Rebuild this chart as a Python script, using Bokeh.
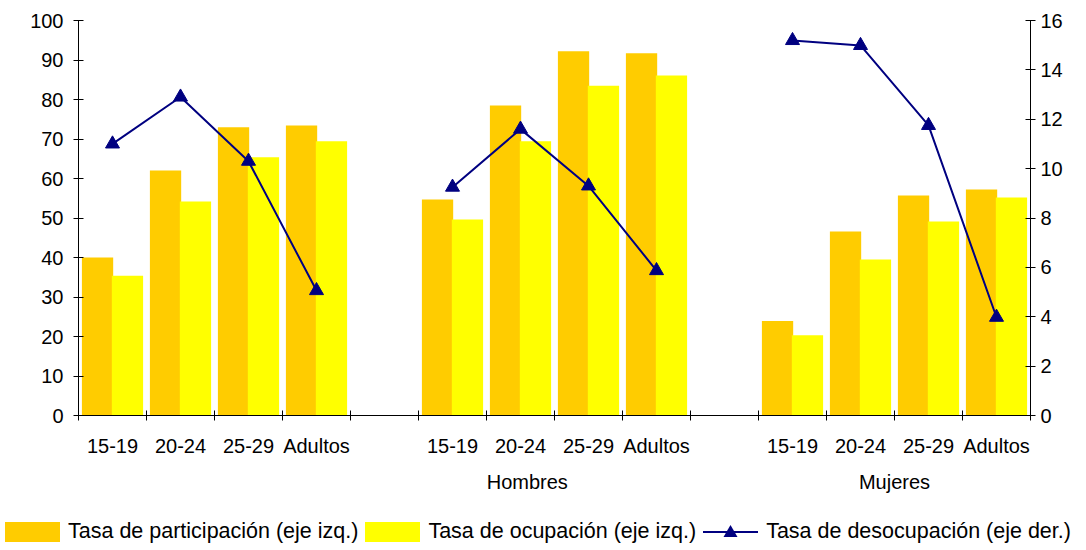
from bokeh.plotting import figure
from bokeh.models import (Range1d, LinearAxis, FixedTicker, ColumnDataSource, Div)
from bokeh.transform import dodge
from bokeh.layouts import column
from bokeh.embed import file_html
from bokeh.resources import INLINE

groups = ["", "Hombres", "Mujeres"]
ages = ["15-19", "20-24", "25-29", "Adultos"]
participacion = [40.0, 62.0, 73.0, 73.4, 54.7, 78.5, 92.2, 91.7, 23.9, 46.6, 55.7, 57.2]
ocupacion = [35.4, 54.2, 65.4, 69.4, 49.6, 69.4, 83.5, 86.1, 20.3, 39.5, 49.1, 55.2]
desocupacion = [11.0, 12.9, 10.3, 5.06, 9.25, 11.6, 9.3, 5.87, 15.19, 14.99, 11.75, 3.98]
series_names = ["Tasa de participación (eje izq.)", "Tasa de ocupación (eje izq.)",
                "Tasa de desocupación (eje der.)"]
left_ticks = list(range(0, 101, 10))
right_ticks = list(range(0, 17, 2))

FONT = "Liberation Sans"
ORANGE = "#FFCC00"
YELLOW = "#FFFF00"
NAVY = "#000080"

slots_per_group = len(ages) + 1
n_slots = len(groups) * slots_per_group - 1

centers = []
labels = []
for g in range(len(groups)):
    for a in range(len(ages)):
        centers.append(g * slots_per_group + a + 0.5)
        labels.append(ages[a])

p = figure(width=1086, height=510, x_range=Range1d(0, n_slots), y_range=Range1d(0, 100),
           output_backend="svg", toolbar_location=None,
           min_border_left=78, min_border_right=56, min_border_top=20, min_border_bottom=95)
p.outline_line_color = None
p.xgrid.visible = False
p.ygrid.visible = False
p.background_fill_color = "white"
p.border_fill_color = "white"

p.extra_y_ranges = {"right": Range1d(0, 16)}

src = ColumnDataSource(dict(x=centers, part=participacion, ocup=ocupacion))
bw = 0.46
b1 = p.vbar(x=dodge("x", -0.22, range=p.x_range), top="part", width=bw, source=src,
            fill_color=ORANGE, line_color=None)
b2 = p.vbar(x=dodge("x", 0.22, range=p.x_range), top="ocup", width=bw, source=src,
            fill_color=YELLOW, line_color=None)

xs, ys = [], []
for g in range(len(groups)):
    xs.append(centers[g * len(ages):(g + 1) * len(ages)])
    ys.append(desocupacion[g * len(ages):(g + 1) * len(ages)])
ln = p.multi_line(xs=xs, ys=ys, line_color=NAVY, line_width=2, y_range_name="right")
sc = p.scatter(x=centers, y=desocupacion, marker="triangle", size=14, fill_color=NAVY,
               line_color=NAVY, y_range_name="right")

# left axis
ya = p.yaxis[0]
ya.ticker = FixedTicker(ticks=left_ticks)
ya.minor_tick_line_color = None
ya.major_tick_in = 5
ya.major_tick_out = 5
ya.major_label_standoff = 10
ya.major_label_text_font = FONT
ya.major_label_text_font_size = "20px"
ya.major_label_text_color = "black"
ya.axis_line_color = "black"
ya.major_tick_line_color = "black"

ra = LinearAxis(y_range_name="right", ticker=FixedTicker(ticks=right_ticks))
ra.minor_tick_line_color = None
ra.major_tick_in = 5
ra.major_tick_out = 5
ra.major_label_standoff = 5
ra.major_label_text_font = FONT
ra.major_label_text_font_size = "20px"
ra.major_label_text_color = "black"
p.add_layout(ra, "right")

# bottom axis: labels at slot centres, tick marks at slot boundaries
xa = p.xaxis[0]
xa.ticker = FixedTicker(ticks=centers, minor_ticks=list(range(0, n_slots + 1)))
xa.major_label_overrides = {c: l for c, l in zip(centers, labels)}
xa.major_tick_in = 0
xa.major_tick_out = 0
xa.minor_tick_in = 5
xa.minor_tick_out = 5
xa.minor_tick_line_color = "black"
xa.major_label_standoff = 14
xa.major_label_text_font = FONT
xa.major_label_text_font_size = "20px"
xa.major_label_text_color = "black"

group_pos = [6.6, 12.0]
ga = LinearAxis(ticker=FixedTicker(ticks=group_pos), axis_label=None)
ga.major_label_overrides = {pos: name for pos, name in zip(group_pos, groups[1:])}
ga.axis_line_color = None
ga.major_tick_line_color = None
ga.minor_tick_line_color = None
ga.major_tick_in = 0
ga.major_tick_out = 0
ga.major_label_standoff = 11
ga.major_label_text_font = FONT
ga.major_label_text_font_size = "20px"
ga.major_label_text_color = "black"
p.add_layout(ga, "below")

# legend strip
def swatch(color):
    return (f'<span style="display:inline-block;width:55px;height:20px;background:{color};'
            f'margin-right:8px;flex:none"></span>')

line_sym = (f'<svg width="55" height="20" style="margin-right:8px;flex:none">'
            f'<line x1="0" y1="10" x2="55" y2="10" stroke="{NAVY}" stroke-width="2"/>'
            f'<polygon points="27.5,3 34.5,15 20.5,15" fill="{NAVY}"/></svg>')

syms = [swatch(ORANGE), swatch(YELLOW), line_sym]
parts = []
for i, (sym, name) in enumerate(zip(syms, series_names)):
    gap = "margin-right:7px;" if i < len(series_names) - 1 else ""
    parts.append(f'{sym}<span style="{gap}white-space:nowrap">{name}</span>')

html = (f'<div style="display:flex;align-items:center;height:40px;box-sizing:border-box;'
        f'padding:4px 0 0 5px;font-family:\'{FONT}\';font-size:21.5px;color:black;'
        f'white-space:nowrap;line-height:1">' + "".join(parts) + '</div>')
leg = Div(text=html, width=1086, height=40, margin=(0, 0, 0, 0))

layout = column(p, leg, spacing=0)
open("out.html", "w").write(file_html(layout, INLINE))
